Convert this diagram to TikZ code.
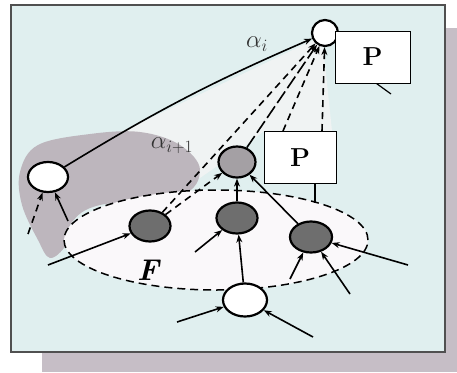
\documentclass[tikz,border=0pt]{standalone}
\usetikzlibrary{arrows.meta,shapes.geometric}
\definecolor{bgc}{HTML}{E0EFEF}
\definecolor{shadowc}{HTML}{C6BEC6}
\definecolor{blobc}{HTML}{BDB6BD}
\definecolor{conec}{HTML}{F0F3F3}
\definecolor{ellc}{HTML}{FAF8FA}
\definecolor{darkn}{HTML}{6E6E6E}
\definecolor{midn}{HTML}{A4A0A4}
\definecolor{framec}{HTML}{505050}
\tikzset{
  nd/.style={ellipse,draw=black,line width=2.2pt,inner sep=0pt},
  whitenode/.style={nd,fill=white},
  darknode/.style={nd,fill=darkn},
  midnode/.style={nd,fill=midn},
  pbox/.style={draw=black,line width=1pt,fill=white,minimum width=72pt,minimum height=52pt,font=\fontsize{26}{30}\selectfont\bfseries},
  arr/.style={line width=1.6pt,-{Stealth[length=8pt,width=6pt]}},
  darr/.style={arr,dash pattern=on 7pt off 5pt},
  lbl/.style={font=\fontsize{27}{30}\selectfont,text=black!80}
}
\begin{document}
\begin{tikzpicture}[x=1pt,y=-1pt]
\useasboundingbox (0,0) rectangle (457,372);
\fill[white] (0,0) rectangle (457,372);
% shadow and frame
\fill[shadowc] (42,28) rectangle (457,372);
\draw[framec,line width=2pt,fill=bgc] (11,5) rectangle (445,352);
% light cone
\fill[conec] (46,168) -- (322,36) -- (332,131) -- (264,131) -- (240,150) -- (200,178) -- cycle;
% gray blob
\fill[blobc] plot[smooth cycle,tension=0.6] coordinates {(20,172) (38,145) (90,134) (140,132) (180,145) (200,170) (180,196) (100,205) (72,222) (66,245) (50,258) (38,240) (22,205)};
% ellipse F
\node[ellipse,draw=black,line width=1.5pt,dash pattern=on 8pt off 5pt,fill=ellc,minimum width=304pt,minimum height=100pt] (F) at (216,240) {};
% nodes
\node[whitenode,minimum width=26pt,minimum height=26pt] (top) at (325,33) {};
\node[whitenode,minimum width=40pt,minimum height=30pt] (left) at (48,177) {};
\node[midnode,minimum width=37pt,minimum height=31pt] (mid) at (237,162) {};
\node[darknode,minimum width=41pt,minimum height=31pt] (n1) at (150,226) {};
\node[darknode,minimum width=41pt,minimum height=31pt] (n2) at (237,218) {};
\node[darknode,minimum width=42pt,minimum height=31pt] (n3) at (311,237) {};
\node[whitenode,minimum width=44pt,minimum height=33pt] (bot) at (245,300) {};
\node[pbox,minimum width=75pt] (ptop) at (372.5,57) {P};
\node[pbox] (pmid) at (300,157.5) {P};
% labels
\node[lbl] (la) at (257,44) {$\alpha_i$};
\node[lbl] (lb) at (172,146) {$\alpha_{i+1}$};
\node[font=\fontsize{30}{34}\selectfont\bfseries\itshape] (lF) at (148,270) {F};
% P box tails
\coordinate (ttail) at (391,94);
\draw[line width=1.2pt] (ptop.south) ++(4,0) coordinate (tt0) (tt0) -- (ttail);
\coordinate (mstem) at (315,203);
\draw[line width=1.2pt] (pmid.south -| mstem) -- (mstem);
% connectors to top
\draw[arr] (left) to[bend left=4] (top);
\draw[darr] (n1) -- (top);
\draw[darr,dash pattern=on 14pt off 4pt] (mid) -- (top);
\coordinate (pa) at (283,131);
\coordinate (pb) at (322,131);
\draw[darr] (pa) -- (top);
\draw[darr] (pb) -- (top);
% connectors to mid
\draw[darr] (n1) -- (mid);
\draw[arr] (n2) -- (mid);
\draw[arr] (n3) -- (mid);
% bottom to n2
\draw[arr] (bot) -- (n2);
% free incoming arrows
\coordinate (i1) at (48,265);
\coordinate (i2) at (195,252);
\coordinate (i3) at (290,279);
\coordinate (i4) at (350,294);
\coordinate (i5) at (408,265);
\coordinate (i6) at (177,322);
\coordinate (i7) at (313,337);
\coordinate (i8) at (68,221);
\coordinate (i9) at (28,234);
\draw[arr] (i1) -- (n1);
\draw[arr] (i2) -- (n2);
\draw[arr] (i3) -- (n3);
\draw[arr] (i4) -- (n3);
\draw[arr] (i5) -- (n3);
\draw[arr] (i6) -- (bot);
\draw[arr] (i7) -- (bot);
\draw[arr] (i8) -- (left);
\draw[darr] (i9) -- (left);
\end{tikzpicture}
\end{document}
